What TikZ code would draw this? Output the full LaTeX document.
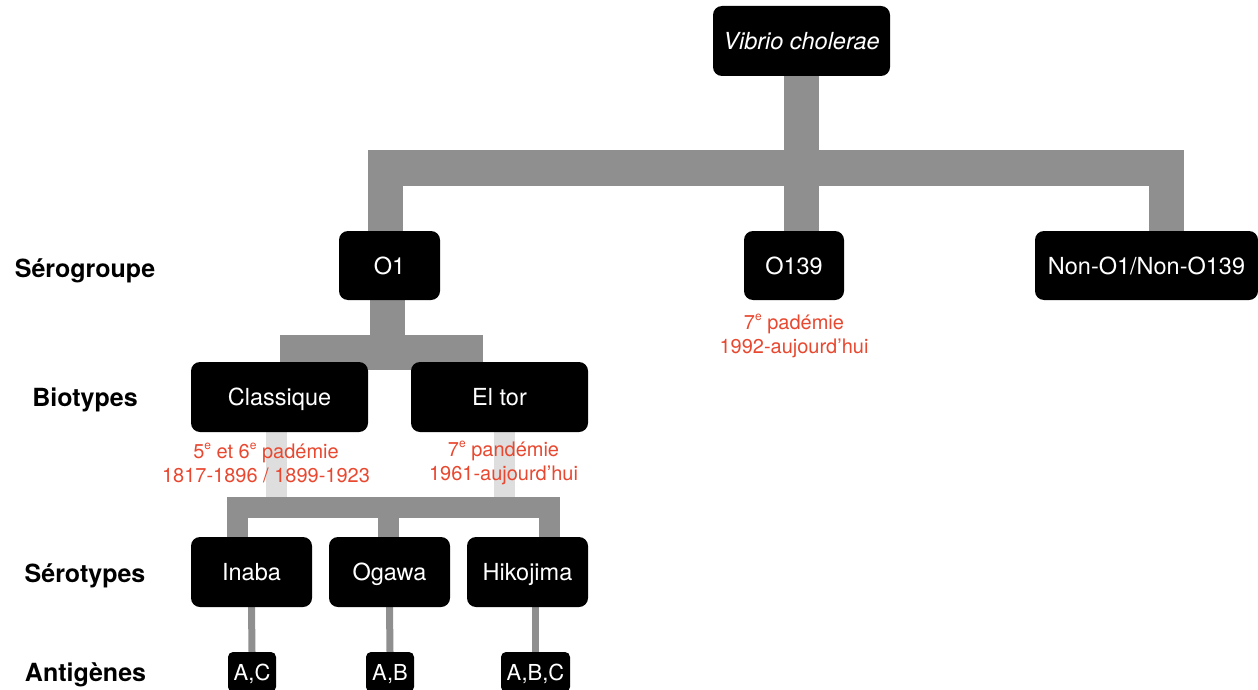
\documentclass[tikz,border=0pt]{standalone}
\usepackage{fontspec}
\setmainfont{TeX Gyre Heros}
\pgfdeclarelayer{background}
\pgfsetlayers{background,main}
\definecolor{gmain}{RGB}{143,143,143}
\definecolor{glight}{RGB}{222,222,222}
\definecolor{redtxt}{RGB}{232,72,48}
\tikzset{
  box/.style={fill=black, rounded corners=9pt, text=white, inner sep=0pt,
    text height=17pt, text depth=0pt,
    font=\fontsize{23.5}{28}\selectfont},
  abox/.style={fill=black, rounded corners=5pt, text=white, inner sep=0pt,
    text height=16pt, text depth=0pt,
    minimum height=40pt, font=\fontsize{22}{26}\selectfont},
  lvl/.style={font=\fontsize{25}{30}\selectfont\bfseries, inner sep=0pt,
    text height=18pt, text depth=0pt},
  note/.style={text=redtxt, align=center, inner sep=0pt,
    font=\fontsize{20}{24}\selectfont},
  thick bar/.style={draw=gmain, line width=35pt, line cap=butt, line join=miter},
  mid bar/.style={draw=gmain, line width=21pt, line cap=butt, line join=miter},
  thin bar/.style={draw=gmain, line width=7pt, line cap=butt},
  light bar/.style={draw=glight, line width=21pt, line cap=butt}
}
\newcommand{\expo}[1]{\raisebox{0.45em}{\fontsize{12}{12}\selectfont #1}}
\begin{document}
\begin{tikzpicture}[x=1pt,y=-1pt]
\useasboundingbox (0,0) rectangle (1258,690);
% nodes
\node[box, minimum width=177pt, minimum height=70pt] (vc) at (801.5,41) {\itshape Vibrio cholerae};
\node[box, minimum width=101pt, minimum height=69pt] (o1) at (389.5,265.5) {O1};
\node[box, minimum width=100pt, minimum height=69pt] (o139) at (794,265.5) {O139};
\node[box, minimum width=223pt, minimum height=69pt] (non) at (1146.5,265.5) {Non-O1/Non-O139};
\node[box, minimum width=177pt, minimum height=70pt] (cla) at (279.5,397) {Classique};
\node[box, minimum width=177pt, minimum height=70pt] (elt) at (499.5,397) {El tor};
\node[box, minimum width=121pt, minimum height=70pt] (ina) at (251.5,572) {Inaba};
\node[box, minimum width=121pt, minimum height=70pt] (oga) at (389.5,572) {Ogawa};
\node[box, minimum width=121pt, minimum height=70pt] (hik) at (527.5,572) {Hikojima};
\node[abox, minimum width=48pt] (ac) at (252,672) {A,C};
\node[abox, minimum width=48pt] (ab) at (390,672) {A,B};
\node[abox, minimum width=69pt] (abc) at (535.5,672) {A,B,C};
% level labels
\node[lvl] (l1) at (85,268) {Sérogroupe};
\node[lvl] (l2) at (85,397) {Biotypes};
\node[lvl] (l3) at (85,573) {Sérotypes};
\node[lvl] (l4) at (85.5,672) {Antigènes};
% red notes
\node[note] (n1) at (794,336) {7\expo{e} padémie\\1992-aujourd’hui};
\node[note] (n2) at (266,462.5) {5\expo{e} et 6\expo{e} padémie\\1817-1896 / 1899-1923};
\node[note] (n3) at (503.5,462.5) {7\expo{e} pandémie\\1961-aujourd’hui};
% junction coordinates
\coordinate (j1) at (385,168);
\coordinate (j2) at (801.5,168);
\coordinate (j3) at (1166.5,168);
\coordinate (k1) at (297.5,352.5);
\coordinate (k2) at (387.5,352.5);
\coordinate (k3) at (465.5,352.5);
\coordinate (m1) at (237.5,507.5);
\coordinate (m2) at (388,507.5);
\coordinate (m3) at (549.5,507.5);
\coordinate (c1) at (276.5,497);
\coordinate (c2) at (504.5,497);
\begin{pgfonlayer}{background}
  % serogroup level
  \draw[thick bar] (o1.north -| j1) -- (j1) -- (j3) -- (non.north -| j3);
  \draw[thick bar] (vc.south) -- (o139.north -| j2);
  % biotype level
  \draw[thick bar] (cla.north -| k1) -- (k1) -- (k3) -- (elt.north -| k3);
  \draw[thick bar] (o1.south -| k2) -- (k2);
  % light stems
  \draw[light bar] (cla.south -| c1) -- (c1);
  \draw[light bar] (elt.south -| c2) -- (c2);
  % serotype level
  \draw[mid bar] (ina.north -| m1) -- (m1) -- (m3) -- (hik.north -| m3);
  \draw[mid bar] (oga.north -| m2) -- (m2);
  % antigens
  \draw[thin bar] (ina.south) -- (ac.north);
  \draw[thin bar] (oga.south) -- (ab.north);
  \draw[thin bar] (hik.south -| abc.north) -- (abc.north);
\end{pgfonlayer}
\end{tikzpicture}
\end{document}
